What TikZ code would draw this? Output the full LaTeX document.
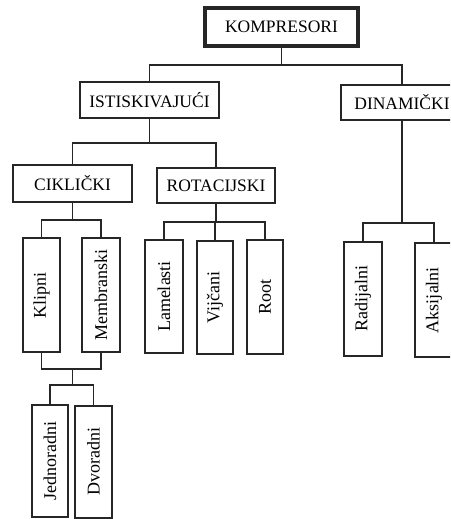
\documentclass[tikz,border=0pt]{standalone}
\usepackage{fontspec}
\setmainfont{Liberation Serif}
\usepackage{graphicx}
\tikzset{
  box/.style={draw=black!85, line width=2pt, inner sep=0pt, font=\fontsize{17.5}{20}\selectfont},
  topbox/.style={box, line width=3.4pt},
  vbox/.style={draw=black!85, line width=2pt, inner sep=0pt, minimum width=37pt, minimum height=114pt, font=\fontsize{18}{21}\selectfont},
  link/.style={draw=black!85, line width=1.8pt}
}
\newcommand{\vtext}[1]{\rotatebox{90}{#1}}
\begin{document}
\begin{tikzpicture}[x=1pt, y=-1pt]
\useasboundingbox (0,0) rectangle (450,519);
\clip (0,0) rectangle (450,519);
%
\node [topbox, minimum width=153pt, minimum height=38pt] (komp) at (281.5,27) {KOMPRESORI};
\node [box, minimum width=139pt, minimum height=36pt] (ist) at (149.5,100) {ISTISKIVAJUĆI};
\node [box, minimum width=122pt, minimum height=35pt] (din) at (402,102.5) {DINAMIČKI};
\node [box, minimum width=119pt, minimum height=37pt] (cik) at (72.5,183.5) {CIKLIČKI};
\node [box, minimum width=118pt, minimum height=35pt] (rot) at (216,185.5) {ROTACIJSKI};

\node [vbox] (klip) at (41.5,295) {\vtext{Klipni}};
\node [vbox, minimum width=38pt] (memb) at (101,295) {\vtext{Membranski}};
\node [vbox, minimum width=38pt, minimum height=113pt] (lam) at (164,296.5) {\vtext{Lamelasti}};
\node [vbox, minimum width=36pt, minimum height=113pt] (vij) at (215,297.5) {\vtext{Vijčani}};
\node [vbox, minimum width=36pt] (root) at (265,297) {\vtext{Root}};
\node [vbox, minimum width=38pt] (rad) at (363,299) {\vtext{Radijalni}};
\node [vbox, minimum width=38pt] (aks) at (434,300) {\vtext{Aksijalni}};
\node [vbox, minimum width=36pt, minimum height=112pt] (jedn) at (50,461) {\vtext{Jednoradni}};
\node [vbox, minimum width=37pt, minimum height=112pt] (dvor) at (93.5,461.5) {\vtext{Dvoradni}};

% junctions
\coordinate (jKomp) at (281.5,65);
\coordinate (jIst) at (149.5,143);
\coordinate (jCik) at (72.5,220);
\coordinate (jRot) at (216,222);
\coordinate (jDin) at (402,223);
\coordinate (jKM) at (72.5,369);
\coordinate (jJD) at (72.5,385);

\draw [link] (komp.south) -- (jKomp);
\draw [link] (ist.north) |- (jKomp) -| (din.north);
\draw [link] (ist.south) -- (jIst);
\draw [link] (cik.north) |- (jIst) -| (rot.north);
\draw [link] (cik.south) -- (jCik);
\draw [link] (klip.north) |- (jCik) -| (memb.north);
\draw [link] (rot.south) -- (jRot);
\draw [link] (lam.north) |- (jRot) -| (root.north);
\draw [link] (vij.north) -- (vij.north |- jRot);
\draw [link] (din.south) -- (jDin);
\draw [link] (rad.north) |- (jDin) -| (aks.north);
\draw [link] (klip.south) |- (jKM) -| (memb.south);
\draw [link] (jKM) -- (jJD);
\draw [link] (jedn.north) |- (jJD) -| (dvor.north);
\end{tikzpicture}
\end{document}
